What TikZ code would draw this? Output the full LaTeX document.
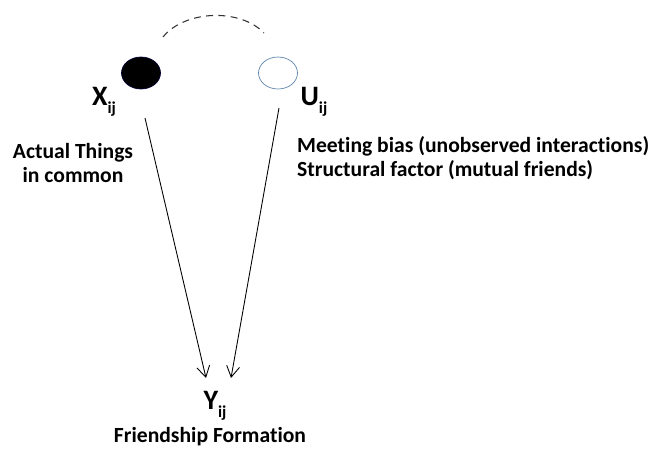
\documentclass[tikz,border=0pt]{standalone}
\usepackage{fontspec}
\setmainfont[RawFeature=-liga]{Carlito}
\usetikzlibrary{arrows.meta,shapes.geometric}

\newcommand{\sub}[2]{#1\raisebox{-0.55ex}{\fontsize{9.5}{9.5}\selectfont #2}}

\begin{document}
\begin{tikzpicture}[x=0.02cm,y=-0.02cm]
	\tikzset{
    	myvar/.style={ellipse,draw=black,inner sep=0pt},
	    myfilled/.style={myvar,fill=black,draw=black!80!blue,minimum width=0.78cm,minimum height=0.64cm},
	    myempty/.style={myvar,fill=white,draw=uborder,minimum width=0.78cm,minimum height=0.64cm},
	    mysym/.style={font=\fontsize{16}{18}\selectfont\bfseries},
	    mylabel/.style={font=\fontsize{12.3}{13.5}\selectfont\bfseries},
	    myarrow/.style={-{Straight Barb[length=2.2mm,width=2.6mm]}, line width=0.5pt}
	}
	\definecolor{uborder}{RGB}{95,135,175}
	\useasboundingbox (0,0) rectangle (656,450);
	\node[myfilled] (x) at (141,73) {};
	\node[myempty] (u) at (278,73) {};
	\node[mysym] (xl) at (104,102) {\sub{X}{ij}};
	\node[mysym] (ul) at (314,102) {\sub{U}{ij}};
	\node[mylabel, align=center] (xtext) at (73,163) {Actual Things\\in common};
	\node[mylabel, align=left, anchor=west] (utext) at (291,158) {Meeting bias (unobserved interactions)\\Structural factor (mutual friends)};
	\node[mysym] (y) at (215,406) {\sub{Y}{ij}};
	\node[mylabel] (ytext) at (210,437) {Friendship Formation};

	\coordinate (xstart) at (145,118);
	\coordinate (ustart) at (279,108);
	\coordinate (xend) at (206,378);
	\coordinate (uend) at (231,378);
	\coordinate (arcl) at (163,37);
	\coordinate (arcr) at (264,33);

	\draw[myarrow] (xstart) -- (xend);
	\draw[myarrow] (ustart) -- (uend);
	\draw[dashed, line width=0.6pt, dash pattern=on 4pt off 3pt, black!80] (arcl) .. controls (185,10) and (240,8) .. (arcr);
\end{tikzpicture}
\end{document}
